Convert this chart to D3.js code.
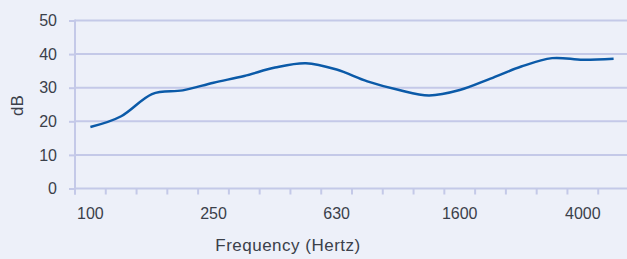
<!DOCTYPE html>
<html>
<head>
<meta charset="utf-8">
<style>
body { margin: 0; background: #edf0f9; }
text { font-family: "Liberation Sans", Arial, sans-serif; fill: #3b404a; }
</style>
<script src="https://d3js.org/d3.v7.min.js"></script>
</head>
<body>
<script>
  const width = 627;
  const height = 259;

  // one-third octave bands
  const bands = [100, 125, 160, 200, 250, 315, 400, 500, 630, 800, 1000, 1250, 1600, 2000, 2500, 3150, 4000, 5000];
  const levels = [18.3, 21.5, 28.1, 29.2, 31.5, 33.5, 36.0, 37.3, 35.4, 31.9, 29.4, 27.7, 29.3, 32.7, 36.3, 38.8, 38.3, 38.6];
  const labelledBands = [100, 250, 630, 1600, 4000];
  const dbTicks = [0, 10, 20, 30, 40, 50];

  const margin = { left: 75, right: -2, top: 20.5, bottom: 70.5 };

  var svg = d3.select("body")
    .append("svg")
    .attr("width", width)
    .attr("height", height);

  var x = d3.scaleBand()
    .domain(bands)
    .range([margin.left, width - margin.right])
    .padding(0);

  var y = d3.scaleLinear()
    .domain([0, 50])
    .range([height - margin.bottom, margin.top]);

  var grid = "#c4c9e8";

  // horizontal gridlines
  svg.append("g")
    .selectAll("line")
    .data(dbTicks.slice(1))
    .enter()
    .append("line")
      .attr("x1", margin.left)
      .attr("x2", width - margin.right)
      .attr("y1", d => y(d))
      .attr("y2", d => y(d))
      .attr("stroke", grid)
      .attr("stroke-width", 2);

  // y axis
  var yAxis = svg.append("g")
    .attr("transform", "translate(" + margin.left + ",0)")
    .call(d3.axisLeft(y).tickValues(dbTicks).tickSize(6).tickPadding(12));
  yAxis.select(".domain").remove();
  yAxis.selectAll("line").attr("stroke", grid).attr("stroke-width", 2);
  yAxis.append("line")
    .attr("x1", 0).attr("x2", 0)
    .attr("y1", y(50) - 1).attr("y2", y(0) + 6)
    .attr("stroke", grid).attr("stroke-width", 2);
  yAxis.selectAll("text")
    .style("font-size", "16px")
    .attr("fill", "#3b404a");

  // x axis: ticks between categories, labels every fourth band
  var xAxis = svg.append("g")
    .attr("transform", "translate(0," + y(0) + ")");
  xAxis.append("line")
    .attr("x1", margin.left).attr("x2", width - margin.right)
    .attr("stroke", grid).attr("stroke-width", 2);
  xAxis.selectAll(".tick")
    .data(bands)
    .enter()
    .append("line")
      .attr("x1", d => x(d))
      .attr("x2", d => x(d))
      .attr("y1", 0)
      .attr("y2", 6)
      .attr("stroke", grid)
      .attr("stroke-width", 2);
  xAxis.selectAll(".lbl")
    .data(labelledBands)
    .enter()
    .append("text")
      .attr("x", d => x(d) + x.bandwidth() / 2)
      .attr("y", 30.5)
      .attr("text-anchor", "middle")
      .style("font-size", "16px")
      .text(d => d);

  // the response curve
  var line = d3.line()
    .x((d, i) => x(bands[i]) + x.bandwidth() / 2)
    .y(d => y(d))
    .curve(d3.curveCatmullRom.alpha(0));

  svg.append("path")
    .datum(levels)
    .attr("d", line)
    .attr("fill", "none")
    .attr("stroke", "#0b5aa8")
    .attr("stroke-width", 2.5);

  // axis titles
  svg.append("text")
    .attr("x", 288)
    .attr("y", 250.5)
    .attr("text-anchor", "middle")
    .style("font-size", "17px")
    .style("letter-spacing", "0.5px")
    .text("Frequency (Hertz)");

  svg.append("text")
    .attr("transform", "translate(23," + (y(25) + 1) + ") rotate(-90)")
    .attr("text-anchor", "middle")
    .style("font-size", "17px")
    .text("dB");
</script>
</body>
</html>
